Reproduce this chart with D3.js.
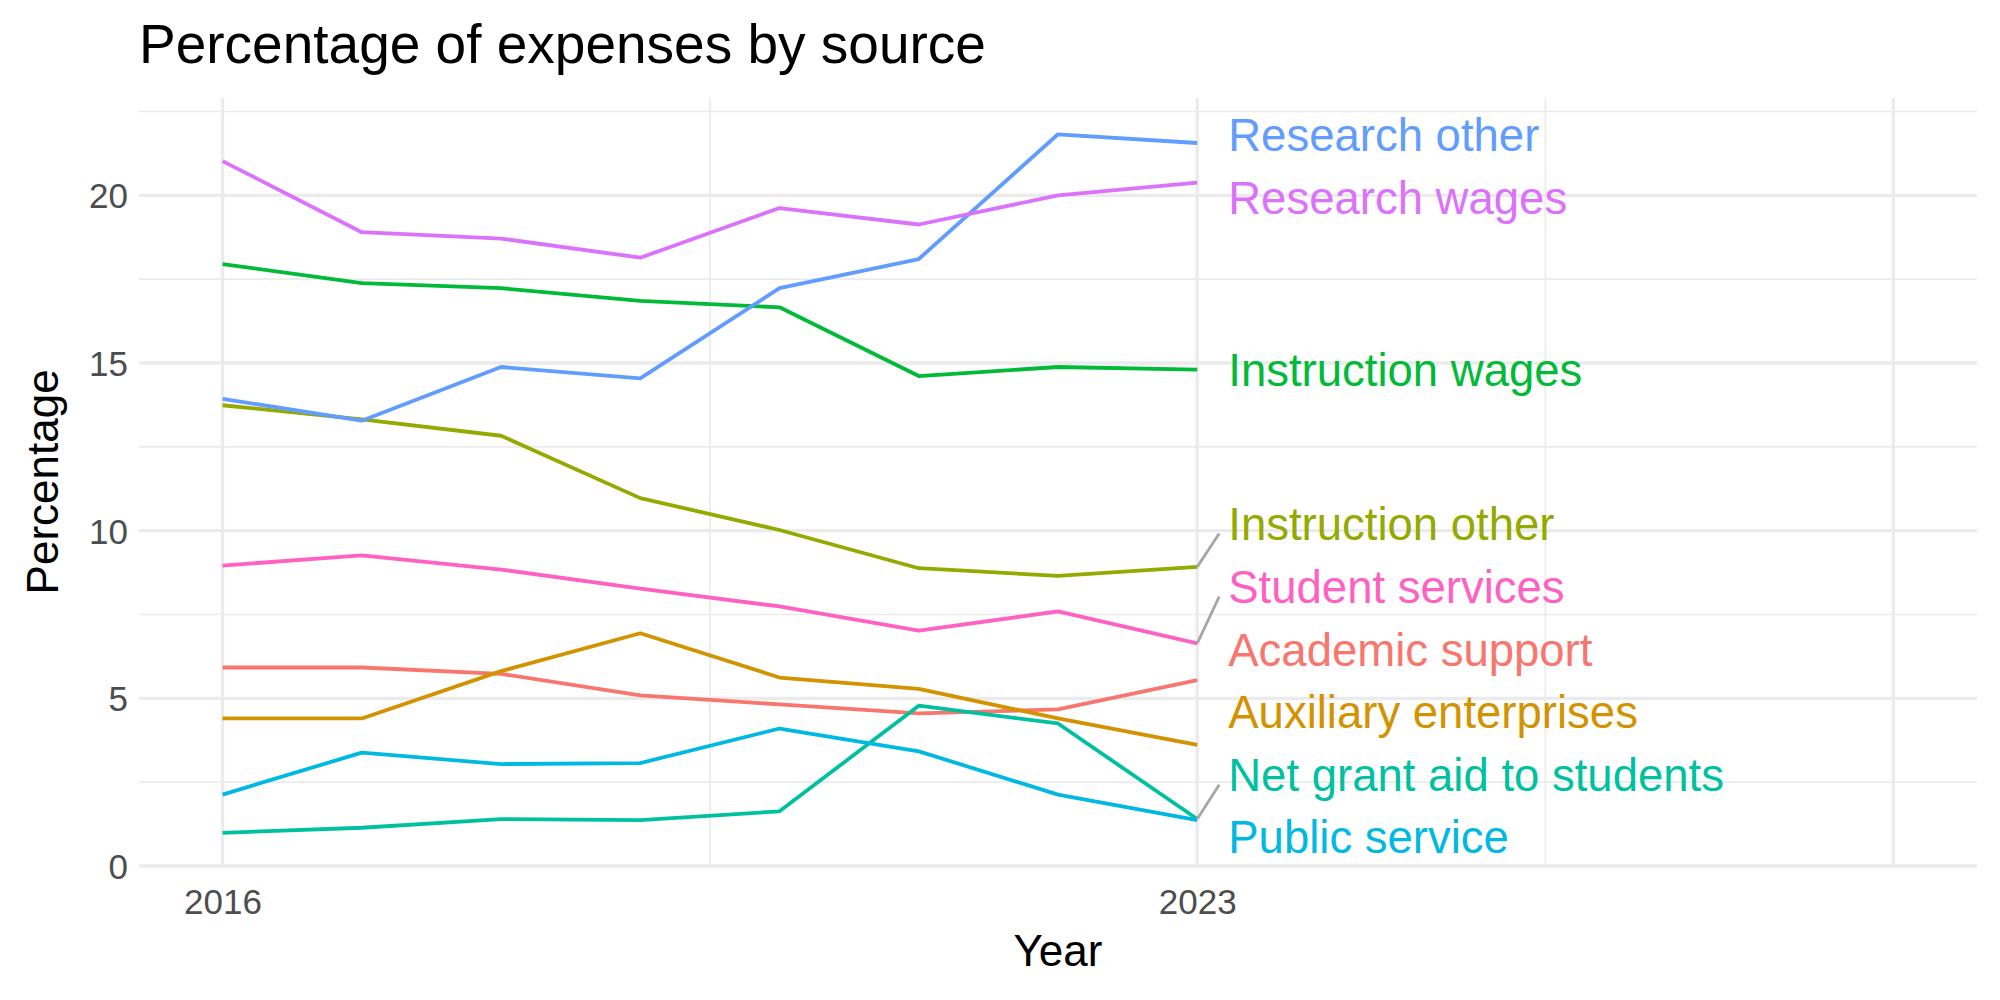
<!DOCTYPE html>
<html>
<head>
<meta charset="utf-8">
<script src="https://cdn.jsdelivr.net/npm/d3@7"></script>
<style>
  body { margin: 0; background: #fff; }
  text { font-family: "Liberation Sans", Arial, Helvetica, sans-serif; }
</style>
</head>
<body>
<div id="chart"></div>
<script>
const years = [2016, 2017, 2018, 2019, 2020, 2021, 2022, 2023];

const sources = ['Academic support', 'Auxiliary enterprises', 'Instruction other', 'Instruction wages',
                 'Net grant aid to students', 'Public service', 'Research other', 'Research wages',
                 'Student services'];

const academicSupport   = [5.92, 5.92, 5.73, 5.09, 4.82, 4.55, 4.67, 5.54];
const auxiliary         = [4.40, 4.40, 5.81, 6.94, 5.62, 5.28, 4.40, 3.61];
const instructionOther  = [13.74, 13.32, 12.83, 10.97, 10.02, 8.88, 8.65, 8.92];
const instructionWages  = [17.95, 17.38, 17.23, 16.85, 16.66, 14.61, 14.88, 14.80];
const netGrantAid       = [0.99, 1.14, 1.40, 1.37, 1.63, 4.78, 4.25, 1.40];
const publicService     = [2.13, 3.38, 3.04, 3.07, 4.10, 3.42, 2.13, 1.37];
const researchOther     = [13.93, 13.28, 14.88, 14.54, 17.23, 18.10, 21.82, 21.56];
const researchWages     = [21.02, 18.90, 18.71, 18.14, 19.62, 19.13, 20.00, 20.38];
const studentServices   = [8.96, 9.26, 8.84, 8.27, 7.74, 7.02, 7.59, 6.64];

const seriesValues = [academicSupport, auxiliary, instructionOther, instructionWages,
                      netGrantAid, publicService, researchOther, researchWages, studentServices];

// ggplot hue palette, 9 levels
const colors = ['#F8766D', '#D39200', '#93AA00', '#00BA38', '#00C19F', '#00B9E3', '#619CFF', '#DB72FB', '#FF61C3'];

const xMajor = [2016, 2023, 2028];
const xLabels = [2016, 2023];
const xMinor = [2019.5, 2025.5];
const yMajor = [0, 5, 10, 15, 20];
const yMinor = [2.5, 7.5, 12.5, 17.5, 22.5];

function drawChart() {
    const W = 2000, H = 1000;
    const panel = { left: 139, right: 1977, top: 97.7, bottom: 866 };

    const data = sources.map((s, i) => ({
        name: s,
        color: colors[i],
        values: years.map((y, j) => ({ year: y, value: seriesValues[i][j] }))
    }));

    const svg = d3.select('#chart').append('svg')
                  .attr('width', W)
                  .attr('height', H);

    svg.append('rect').attr('width', W).attr('height', H).attr('fill', '#fff');

    // x runs past the data to leave room for the labels (limits 2016..2028, 5% expand)
    const x = d3.scaleLinear()
                .domain([2016 - 0.6, 2028 + 0.6])
                .range([panel.left, panel.right]);

    const yMax = d3.max(seriesValues, v => d3.max(v));
    const y = d3.scaleLinear()
                .domain([0, yMax * 1.05])
                .range([panel.bottom, panel.top]);

    const grid = svg.append('g').attr('stroke', '#EBEBEB').attr('fill', 'none');

    // minor grid
    grid.selectAll('.ymin').data(yMinor).enter().append('line')
        .attr('x1', panel.left).attr('x2', panel.right)
        .attr('y1', d => y(d)).attr('y2', d => y(d))
        .attr('stroke-width', 1.7);
    grid.selectAll('.xmin').data(xMinor).enter().append('line')
        .attr('x1', d => x(d)).attr('x2', d => x(d))
        .attr('y1', panel.top).attr('y2', panel.bottom)
        .attr('stroke-width', 1.7);

    // major grid
    grid.selectAll('.ymaj').data(yMajor).enter().append('line')
        .attr('x1', panel.left).attr('x2', panel.right)
        .attr('y1', d => y(d)).attr('y2', d => y(d))
        .attr('stroke-width', 3.3);
    grid.selectAll('.xmaj').data(xMajor).enter().append('line')
        .attr('x1', d => x(d)).attr('x2', d => x(d))
        .attr('y1', panel.top).attr('y2', panel.bottom)
        .attr('stroke-width', 3.3);

    // axes (text only, theme_minimal style)
    const yAxis = svg.append('g')
       .attr('transform', `translate(${panel.left - 11},0)`)
       .call(d3.axisLeft(y).tickValues(yMajor).tickSize(0).tickPadding(0));
    yAxis.select('.domain').remove();
    yAxis.selectAll('text')
         .attr('font-size', 35).attr('fill', '#4D4D4D')
         .attr('font-family', '"Liberation Sans", Arial, sans-serif')
         .attr('dy', '0.36em');

    const xAxis = svg.append('g')
       .attr('transform', `translate(0,${panel.bottom})`)
       .call(d3.axisBottom(x).tickValues(xLabels).tickFormat(d3.format('d')).tickSize(0).tickPadding(0));
    xAxis.select('.domain').remove();
    xAxis.selectAll('text')
         .attr('font-size', 35).attr('fill', '#4D4D4D')
         .attr('font-family', '"Liberation Sans", Arial, sans-serif')
         .attr('dy', 0).attr('y', 48);

    // lines
    const line = d3.line()
                   .x(d => x(d.year))
                   .y(d => y(d.value));

    svg.append('g').selectAll('path')
       .data(data)
       .enter()
       .append('path')
       .attr('d', d => line(d.values))
       .attr('fill', 'none')
       .attr('stroke', d => d.color)
       .attr('stroke-width', 3.8)
       .attr('stroke-linejoin', 'round');

    // end labels, simple repel: push apart vertically, keep inside panel
    const fontSize = 45.5, gap = 63, labelX = x(2023) + 31;
    const minY = panel.top + 30, maxY = panel.bottom - 29;
    const labels = data.map(d => {
        const last = d.values[d.values.length - 1];
        return { name: d.name, color: d.color, px: x(last.year), py: y(last.value), cy: y(last.value) };
    }).sort((a, b) => a.py - b.py);

    for (let iter = 0; iter < 300; iter++) {
        for (let i = 1; i < labels.length; i++) {
            const overlap = gap - (labels[i].cy - labels[i - 1].cy);
            if (overlap > 0) {
                // lower label gives way a bit more, like the repel result
                labels[i - 1].cy -= overlap * 0.35;
                labels[i].cy += overlap * 0.65;
            }
        }
        labels.forEach(l => { l.cy = Math.max(minY, Math.min(maxY, l.cy)); });
    }

    // segments from point to label box when far enough
    const boxHalf = 10;
    labels.forEach(l => {
        const ex = labelX - 9;
        const ey = Math.max(l.cy - boxHalf, Math.min(l.cy + boxHalf, l.py));
        const dist = Math.hypot(ex - l.px, ey - l.py);
        if (dist > 36) {
            svg.append('line')
               .attr('x1', l.px).attr('y1', l.py)
               .attr('x2', ex).attr('y2', ey)
               .attr('stroke', '#A6A6A6')
               .attr('stroke-width', 2.8);
        }
    });

    svg.append('g').selectAll('text')
       .data(labels)
       .enter()
       .append('text')
       .attr('x', labelX)
       .attr('y', d => d.cy)
       .attr('dy', '0.358em')
       .attr('font-size', fontSize)
       .attr('fill', d => d.color)
       .text(d => d.name);

    // titles
    svg.append('text')
       .attr('x', panel.left).attr('y', 63)
       .attr('font-size', 55).attr('fill', '#000')
       .text('Percentage of expenses by source');

    svg.append('text')
       .attr('x', (panel.left + panel.right) / 2).attr('y', 966)
       .attr('text-anchor', 'middle')
       .attr('font-size', 44).attr('fill', '#000')
       .text('Year');

    svg.append('text')
       .attr('transform', `translate(58,${(panel.top + panel.bottom) / 2}) rotate(-90)`)
       .attr('text-anchor', 'middle')
       .attr('font-size', 44).attr('fill', '#000')
       .text('Percentage');
}

drawChart();
</script>
</body>
</html>
